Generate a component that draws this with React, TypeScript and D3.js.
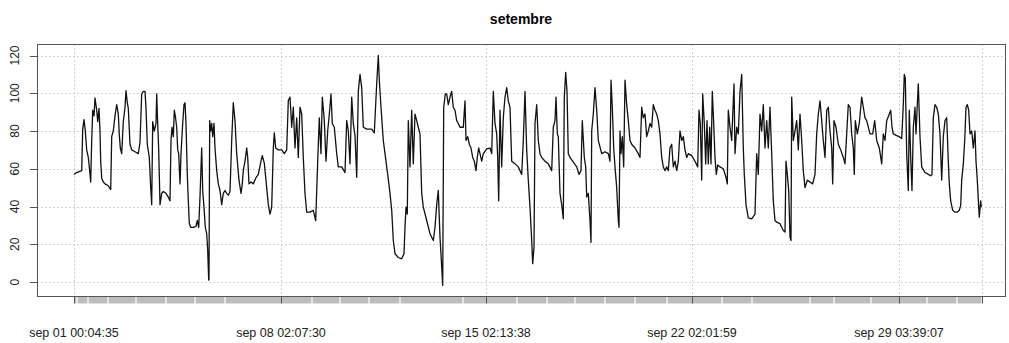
import React from "react";
import * as d3 from "d3";

// Observation position (index along the recording) and measured value.
const readings: [number, number][] = [
  [0, 57], [2.7, 58], [7.7, 59], [8.7, 81], [10, 86], [11.3, 80], [12.7, 70], [14.3, 66], [15.3, 61], [16.7, 53],
  [17.7, 75], [18.7, 91], [20, 88], [21, 97.5], [22.7, 91], [23.7, 85], [25, 92], [26, 80], [26.7, 64], [27.7, 55],
  [29.3, 53], [31, 52], [34.3, 51], [36.7, 49], [37.7, 77], [39.3, 80], [41, 88], [42.7, 94], [44.3, 89], [45.3, 78],
  [46.3, 71], [47.7, 68], [49.3, 85], [51, 92.6], [52, 101.4], [53.3, 95], [54.3, 92], [56, 73], [57.7, 70], [61, 69],
  [64.3, 68], [66, 74], [67.7, 99.6], [69.3, 101], [71, 101], [72, 92], [73.3, 73], [75.3, 66], [76.7, 50], [77.7, 41],
  [78.7, 85], [80.3, 80], [82, 84], [82.7, 99.6], [83.7, 84], [84.7, 70], [86, 41], [87.7, 47], [89.3, 48], [92, 47],
  [94.3, 45], [96, 43], [97, 75], [98, 82], [99.3, 77], [100.3, 91], [101.3, 88], [102.7, 82], [103.7, 70], [104.7, 68],
  [106, 52], [107, 68], [108.7, 84], [110, 94], [111, 95], [112, 84], [113.3, 57], [114.3, 43], [115.3, 31], [116.7, 29],
  [119.3, 29], [122, 29.5], [123.3, 32.6], [124.7, 29], [126, 45], [127.7, 71], [128.7, 48.5], [130, 39.7], [131.3, 29], [132.7, 25.6],
  [133.7, 16.8], [134.7, 1], [135, 1.5], [135.7, 85.5], [136.7, 80], [137.7, 84], [138.7, 77], [140, 84], [141, 71], [142.7, 59],
  [144.3, 52], [146, 48.5], [147.7, 41], [149.3, 47], [151, 48.5], [152.7, 47], [154.3, 46], [156, 48],
  [157.7, 75], [159.3, 95], [161, 85.5], [162.7, 68], [165, 54], [167, 47], [168.3, 52], [169.3, 59], [171, 64], [172.7, 71],
  [173.7, 66], [175, 52], [177, 53], [179.3, 52], [181.7, 55], [184.3, 57], [187, 64], [188.3, 67], [190.3, 63], [192.7, 50],
  [194.3, 41], [196, 36], [197.7, 39.7], [199.3, 71], [200.3, 79], [201.7, 71], [204.3, 70], [207.7, 70], [210.3, 68], [212.7, 70],
  [214.3, 96], [216, 98], [217.7, 82], [219.3, 92.6], [221, 71], [222.7, 87], [224.3, 66], [226, 92.6], [227.7, 89], [229.3, 66],
  [231, 47], [232.7, 37], [236, 37], [239.3, 38], [241.7, 32.6], [243.7, 64], [245.3, 87], [247, 68], [248.3, 98], [250.3, 85.5],
  [252, 64], [253.7, 80], [255, 87], [257, 99.6], [258.3, 84], [260.3, 82], [262.7, 68], [264.3, 61], [267.7, 61], [271, 58],
  [272.7, 85.5], [274.3, 80], [276, 62.6], [277.7, 98], [279.3, 84], [281, 77.6], [282.7, 55.5], [284.3, 101], [286, 110], [287.7, 103],
  [289.3, 82], [292.7, 81], [297.7, 81], [300.3, 79], [302.7, 105], [304.3, 120], [305.3, 107], [307, 92.6], [309.3, 75], [311, 68],
  [313.7, 57], [316, 47], [317.7, 38], [319.3, 22], [321, 15],
  [324.3, 13], [327.7, 12.3], [330, 15], [331, 29], [332, 39.7], [333.3, 36], [334.3, 85.5], [336, 61], [337.7, 91], [339.3, 62.6],
  [341, 89], [342.7, 85.5], [344.3, 82], [346, 78.5], [347.7, 47], [349.3, 39.7], [352.7, 32.6], [356, 25.6], [359.3, 22], [361, 29],
  [362.7, 41], [364.3, 48.5], [366, 23.8], [367.7, 8], [368.7, -1.8], [369.7, 92.6], [371.3, 99.6], [372.7, 99.6], [374.3, 94], [376, 98],
  [377.7, 101], [379.3, 92.6], [381, 91], [382.7, 85.5], [384.3, 84], [386, 82], [389.3, 82], [391, 96], [392, 75], [393.7, 77],
  [395.3, 73], [397, 71], [398.7, 66], [400.3, 64], [402, 59], [403.3, 66], [404.7, 71], [406, 68], [407.7, 64], [409.3, 68],
  [412.7, 70.5], [416, 71], [417.7, 68], [419.3, 101], [421, 84], [422.7, 78.5], [423.7, 66], [424.7, 43], [426, 91], [427.7, 61],
  [429.3, 87], [431, 98], [432.7, 103], [434.3, 96], [436, 92.6], [437.7, 64], [441, 62.6], [444.3, 61], [447.7, 57], [449.3, 75],
  [451, 101], [452.7, 70], [454.3, 54], [456, 39.7], [457.7, 22], [458.7, 9.7], [460, 18.5], [461, 84], [462.7, 94], [464.3, 75],
  [466, 68], [467.7, 66], [471, 64], [474.3, 62.6], [477.7, 59], [479.3, 82], [481, 85.5], [482, 98], [483.3, 78.5], [484.3, 77],
  [486, 47], [487.7, 41], [489.3, 33.5], [490.3, 98], [491.7, 111], [493, 101], [494.3, 68], [496, 66], [499.3, 63.5], [502.7, 61],
  [505, 57], [507, 59], [508.3, 85.5], [510.3, 66], [511.7, 61], [512.7, 45], [514.3, 47], [516, 32.6], [517, 21], [517.7, 80],
  [519.3, 89], [521, 103], [522.7, 91], [524.3, 75], [527.7, 68], [531, 69], [534.3, 68], [536, 64], [537, 107], [538.3, 92.6],
  [539.7, 71], [541, 61], [542.7, 50], [544.3, 32.6], [545, 29], [546, 80], [547, 68], [548.3, 77], [549.7, 61], [551, 107],
  [552.7, 94], [554.3, 85.5], [556, 75], [557.7, 73], [561, 71], [564.3, 68], [566, 66], [567.7, 92.6], [569.3, 87], [571, 89],
  [572.7, 77], [574.3, 80], [576, 84], [577.7, 82], [579.3, 94], [581, 91], [582.7, 89], [584.3, 85.5], [586, 78.5], [587.7, 66],
  [589.3, 61], [591, 59], [592.7, 61], [594.3, 59], [596, 71], [597.7, 73], [599.3, 61], [601, 64], [602.7, 59], [604.3, 64],
  [606, 80], [607.7, 75], [609.3, 77], [611, 70], [612.7, 66], [614.3, 68], [617.7, 67], [621, 64], [623.7, 61], [625, 91],
  [626.3, 84], [627.7, 54], [628.7, 99.6], [630.3, 84], [631.7, 62.6], [633, 85.5], [634.3, 62.6], [635.7, 82], [637, 62.6], [638.3, 101],
  [639.7, 84], [641, 66], [642.3, 57], [643.7, 62],
  [646, 61], [649.3, 60], [652, 55.5], [653.3, 52], [654.3, 91], [656, 82], [657.7, 75], [659.3, 96], [660, 105], [661, 68],
  [662.7, 82], [664.3, 78.5], [666, 101], [667.7, 110], [669.3, 71], [670.3, 57], [672, 41], [674.3, 34], [677.7, 33.5], [681, 36],
  [682.7, 68], [684.3, 57], [686, 89], [687.7, 80], [689.3, 94], [691, 71], [692.7, 85.5], [694.3, 71], [696, 92.6], [697.7, 68],
  [699.3, 43], [701, 32.6], [702.7, 31.7], [706, 30.9], [709.3, 27.3], [711, 26.5], [712, 64], [713.3, 57], [714.7, 48.5], [716, 23.8],
  [717, 22], [717.7, 98], [719.3, 75], [721, 80], [722.7, 85.5], [724.3, 70], [726, 89], [727.7, 75], [729.3, 59], [731, 50],
  [733.3, 54], [736, 53], [738.7, 52], [741, 57], [742.7, 78.5], [744.3, 89], [746, 96], [747.7, 85.5], [749.3, 75], [751, 66],
  [752.7, 91], [754.3, 92.6], [756, 80], [757.7, 71], [758.7, 52], [760, 85.5], [762, 82], [764.3, 73], [766.7, 70], [769.3, 66],
  [771, 62.6], [772.7, 78.5], [774.3, 94], [776, 92.6], [777.7, 78.5], [779.3, 71], [780.3, 57], [781.3, 85.5], [783.3, 78.5], [785.3, 84],
  [787.7, 98], [789.3, 92.6], [791, 87], [792.7, 85.5], [796, 78.5], [798.7, 78.5], [800.7, 85.5], [802.7, 75], [805.3, 71], [807.7, 62.6],
  [809.3, 78.5], [811, 75], [812.7, 85.5], [815.3, 89],
  [816.7, 91], [818, 82], [819.3, 78.5], [822.7, 77.6], [825.3, 77], [827.7, 76], [829.3, 94], [830.3, 110], [831.3, 108], [832.7, 68],
  [834.3, 48.5], [835.3, 91], [836.7, 66], [838, 48.5], [839.3, 82], [841, 92.6], [842, 78.5], [843.3, 94], [844.3, 105], [846, 77],
  [847.7, 61], [851, 58], [854.3, 57], [856.7, 56.3], [858, 57], [859.3, 87], [861, 94], [862.7, 92.6], [864.3, 89], [866, 78.5],
  [867.7, 54], [869.3, 77], [871, 85.5], [872.7, 87], [874.3, 64], [875.3, 52], [876.7, 43], [878.7, 38], [881, 37], [883.3, 37],
  [885.3, 38], [886.7, 40.6], [887.7, 54], [889.3, 62.6], [890.7, 75], [892, 92.6], [893.3, 94], [894.7, 91], [896, 78.5], [897.7, 80],
  [899.3, 71], [901, 80], [902, 64], [903.3, 54], [904.7, 39.7], [905.3, 34.4], [906.7, 43], [907.3, 39.7],
];

const title = "setembre";
const yTicks = [0, 20, 40, 60, 80, 100, 120];
const xTickObs = [0, 207, 412, 618, 825];
const xTickLabels = [
  "sep 01 00:04:35",
  "sep 08 02:07:30",
  "sep 15 02:13:38",
  "sep 22 02:01:59",
  "sep 29 03:39:07",
];
const lastObs = 908;
// Observation positions where the minor tick band is interrupted.
const bandBreaks = [3, 14, 34, 62, 92, 121, 151, 238, 266, 295, 326, 389, 443, 473, 501, 531, 561, 593, 648, 678, 736, 760, 797, 853, 883];

const W = 1009;
const H = 343;
const frame = { left: 37, right: 1005, top: 44, bottom: 296 };
const font = "'Liberation Sans', Arial, sans-serif";

export default function App() {
  const x = d3.scaleLinear().domain([0, lastObs]).range([frame.left + 37, frame.right - 23]);
  const y = d3.scaleLinear().domain([-7.4, 126.1]).range([frame.bottom, frame.top]);

  const line = d3
    .line<[number, number]>()
    .x((d) => x(d[0]))
    .y((d) => y(d[1]));

  const edges = [0, ...bandBreaks, lastObs];
  const bandSegs = d3.pairs(edges);
  const vGrid = [...xTickObs, lastObs];

  return (
    <svg
      width={W}
      height={H}
      style={{ position: "absolute", left: 0, top: 0, background: "#fff" }}
      fontFamily={font}
    >
      <rect x={0} y={0} width={W} height={H} fill="#fff" />
      <text x={(frame.left + frame.right) / 2} y={24} textAnchor="middle" fontSize={14} fontWeight="bold" fill="#000">
        {title}
      </text>

      {/* grid */}
      {yTicks.map((t) => (
        <line
          key={"hg" + t}
          x1={frame.left}
          x2={frame.right}
          y1={Math.round(y(t)) + 0.5}
          y2={Math.round(y(t)) + 0.5}
          stroke="#d2d2d2"
          strokeDasharray="2,2"
        />
      ))}
      {vGrid.map((t) => (
        <line
          key={"vg" + t}
          x1={Math.round(x(t)) + 0.5}
          x2={Math.round(x(t)) + 0.5}
          y1={frame.top}
          y2={frame.bottom}
          stroke="#d2d2d2"
          strokeDasharray="2,2"
        />
      ))}

      {/* series */}
      <path d={line(readings) || ""} fill="none" stroke="#111" strokeWidth={1.3} strokeLinejoin="round" />

      {/* frame */}
      <rect
        x={frame.left + 0.5}
        y={frame.top + 0.5}
        width={frame.right - frame.left}
        height={frame.bottom - frame.top}
        fill="none"
        stroke="#555"
      />

      {/* y axis */}
      {yTicks.map((t) => (
        <g key={"yt" + t}>
          <line x1={frame.left - 7} x2={frame.left} y1={Math.round(y(t)) + 0.5} y2={Math.round(y(t)) + 0.5} stroke="#555" />
          <text
            transform={`translate(19,${y(t)}) rotate(-90)`}
            textAnchor="middle"
            fontSize={12}
            fill="#222"
          >
            {t}
          </text>
        </g>
      ))}

      {/* minor tick band */}
      {bandSegs.map(([a, b], i) => (
        <rect
          key={"bs" + i}
          x={x(a) + 0.6}
          y={frame.bottom + 1}
          width={Math.max(0, x(b) - x(a) - 1.2)}
          height={6.5}
          fill="#bdbdbd"
        />
      ))}
      {vGrid.map((t) => (
        <line
          key={"mt" + t}
          x1={Math.round(x(t)) + 0.5}
          x2={Math.round(x(t)) + 0.5}
          y1={frame.bottom + 1}
          y2={frame.bottom + 7.5}
          stroke="#555"
        />
      ))}

      {/* x labels */}
      {xTickObs.map((t, i) => (
        <text key={"xl" + t} x={x(t)} y={337} textAnchor="middle" fontSize={12.5} fill="#222">
          {xTickLabels[i]}
        </text>
      ))}
    </svg>
  );
}
